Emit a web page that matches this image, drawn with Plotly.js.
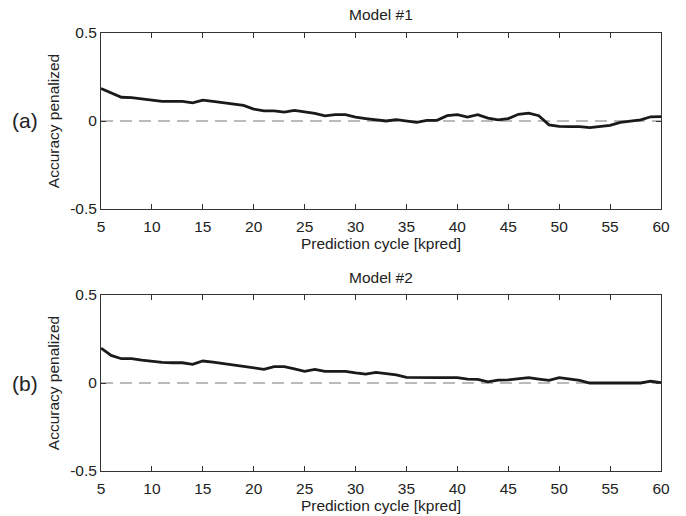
<!DOCTYPE html>
<html>
<head>
<meta charset="utf-8">
<script src="https://cdn.plot.ly/plotly-3.0.1.min.js"></script>
<style>html,body{margin:0;padding:0;background:#fff;}#chart{width:686px;height:516px;}</style>
</head>
<body>
<div id="chart"></div>
<script>
const cycles = [5,6,7,8,9,10,11,12,13,14,15,16,17,18,19,20,21,22,23,24,25,26,27,28,29,30,31,32,33,34,35,36,37,38,39,40,41,42,43,44,45,46,47,48,49,50,51,52,53,54,55,56,57,58,59,60];
const model1 = [0.185,0.160,0.135,0.133,0.125,0.118,0.112,0.112,0.112,0.103,0.119,0.112,0.104,0.096,0.089,0.068,0.058,0.058,0.051,0.060,0.052,0.043,0.029,0.036,0.036,0.022,0.014,0.006,0.000,0.008,0.002,-0.008,0.004,0.004,0.030,0.036,0.022,0.036,0.016,0.007,0.014,0.038,0.045,0.030,-0.022,-0.031,-0.032,-0.032,-0.038,-0.032,-0.025,-0.008,-0.002,0.006,0.024,0.025];
const model2 = [0.198,0.157,0.138,0.138,0.130,0.123,0.117,0.115,0.115,0.106,0.125,0.118,0.110,0.102,0.094,0.086,0.078,0.093,0.093,0.080,0.066,0.077,0.066,0.066,0.066,0.057,0.050,0.060,0.052,0.046,0.032,0.030,0.030,0.030,0.030,0.030,0.022,0.021,0.006,0.016,0.018,0.024,0.030,0.022,0.015,0.030,0.024,0.015,0.000,0.000,0.000,0.000,0.000,0.000,0.010,0.002];
const xTicks = [5,10,15,20,25,30,35,40,45,50,55,60];
const yTicks = [-0.5,0,0.5];
const yTickText = ['-0.5','0','0.5'];
const panelTitles = ['Model #1','Model #2'];
const panelLabels = ['(a)','(b)'];
const xLabel = 'Prediction cycle [kpred]';
const yLabel = 'Accuracy penalized';

const font = {family: 'Liberation Sans, Arial, sans-serif', size: 15.5, color: '#222'};
const lineStyle = {color: '#1a1a1a', width: 2.8};

const traces = [
  {x: cycles, y: model1, type: 'scatter', mode: 'lines', line: lineStyle, xaxis: 'x', yaxis: 'y', showlegend: false, hoverinfo: 'skip'},
  {x: cycles, y: model2, type: 'scatter', mode: 'lines', line: lineStyle, xaxis: 'x2', yaxis: 'y2', showlegend: false, hoverinfo: 'skip'}
];

const xdom = [101/686, 661/686];
const ydom1 = [1 - 209/516, 1 - 33/516];
const ydom2 = [1 - 471/516, 1 - 295/516];

function xaxis(anchor) {
  return {
    domain: xdom, anchor: anchor, range: [5, 60], tickvals: xTicks, ticktext: xTicks.map(String),
    ticks: 'inside', ticklen: 5, tickwidth: 1, tickcolor: '#333', showline: true, linecolor: '#333', linewidth: 1,
    mirror: 'ticks', showgrid: false, zeroline: false, tickfont: font, ticklabelstandoff: 3,
    title: {text: xLabel, font: font, standoff: 1}
  };
}
function yaxis(anchor, dom) {
  return {
    domain: dom, anchor: anchor, range: [-0.5, 0.5], tickvals: yTicks, ticktext: yTickText,
    ticks: 'inside', ticklen: 5, tickwidth: 1, tickcolor: '#333', showline: true, linecolor: '#333', linewidth: 1,
    mirror: 'ticks', showgrid: false, zeroline: false, tickfont: font,
    title: {text: yLabel, font: font, standoff: 6}
  };
}

const dash = {color: '#777', width: 1, dash: '12px,7px'};
const titleFont = {family: font.family, size: 15.5, color: '#222'};
const labelFont = {family: font.family, size: 21, color: '#222'};
const layout = {
  width: 686, height: 516,
  margin: {l: 0, r: 0, t: 0, b: 0},
  paper_bgcolor: '#fff', plot_bgcolor: '#fff',
  font: font,
  xaxis: xaxis('y'), yaxis: yaxis('x', ydom1),
  xaxis2: xaxis('y2'), yaxis2: yaxis('x2', ydom2),
  shapes: [
    {type: 'line', xref: 'x', yref: 'y', x0: 5, x1: 60, y0: 0, y1: 0, line: dash, layer: 'below'},
    {type: 'line', xref: 'x2', yref: 'y2', x0: 5, x1: 60, y0: 0, y1: 0, line: dash, layer: 'below'}
  ],
  annotations: [
    {text: panelTitles[0], xref: 'paper', yref: 'paper', x: (xdom[0]+xdom[1])/2, y: 1 - 14/516, showarrow: false, font: titleFont, xanchor: 'center', yanchor: 'middle'},
    {text: panelTitles[1], xref: 'paper', yref: 'paper', x: (xdom[0]+xdom[1])/2, y: 1 - 277/516, showarrow: false, font: titleFont, xanchor: 'center', yanchor: 'middle'},
    {text: panelLabels[0], xref: 'paper', yref: 'paper', x: 25/686, y: 1 - 121/516, showarrow: false, font: labelFont, xanchor: 'center', yanchor: 'middle'},
    {text: panelLabels[1], xref: 'paper', yref: 'paper', x: 25/686, y: 1 - 383/516, showarrow: false, font: labelFont, xanchor: 'center', yanchor: 'middle'}
  ]
};

Plotly.newPlot('chart', traces, layout, {staticPlot: true, displayModeBar: false});
</script>
</body>
</html>
